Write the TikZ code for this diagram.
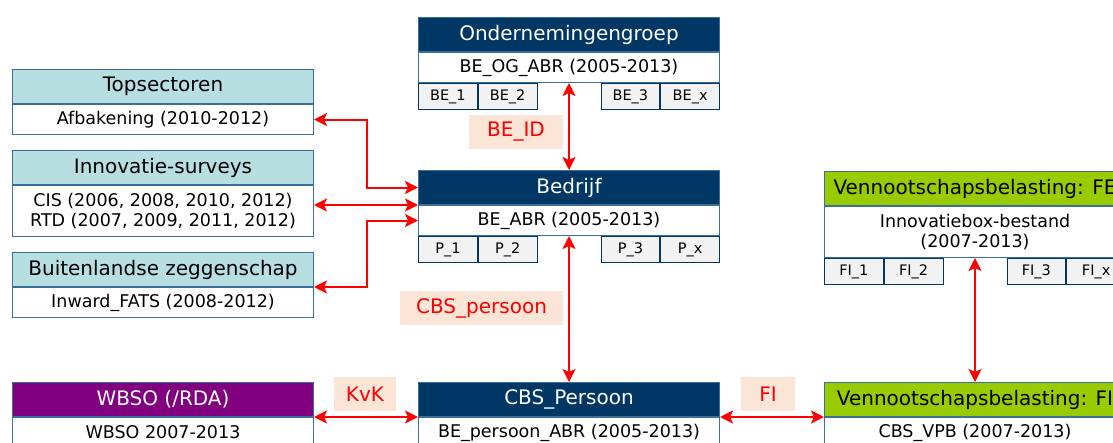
\documentclass[tikz,border=0pt]{standalone}
\usepackage{fontspec}
\setmainfont{DejaVu Sans}
\usetikzlibrary{arrows.meta, positioning}

\definecolor{navy}{HTML}{003764}
\definecolor{hdrteal}{HTML}{B7DFE2}
\definecolor{hdrpurple}{HTML}{800080}
\definecolor{hdrgreen}{HTML}{99CC00}
\definecolor{boxline}{HTML}{3C6E9A}
\definecolor{keygrey}{HTML}{F2F2F2}
\definecolor{linkred}{HTML}{FF0000}
\definecolor{labelfill}{HTML}{FBE5D6}

\tikzset{
  hdr/.style={draw=boxline, line width=1pt, minimum width=301pt, minimum height=34pt,
    inner sep=0pt, anchor=north west, font=\fontsize{20}{23}\selectfont},
  bodybox/.style={draw=boxline, line width=1pt, fill=white, minimum width=301pt,
    minimum height=30pt, inner sep=0pt, align=center, font=\fontsize{17.5}{20}\selectfont},
  keybox/.style={draw=navy, line width=1pt, fill=keygrey, minimum width=58.75pt,
    minimum height=26pt, inner sep=0pt, font=\fontsize{14.5}{16}\selectfont},
  link/.style={draw=linkred, line width=2pt,
    {Stealth[length=13pt, width=13pt, inset=3pt]}-{Stealth[length=13pt, width=13pt, inset=3pt]}},
  idlabel/.style={fill=labelfill, text=linkred, minimum height=34pt, inner sep=0pt,
    font=\fontsize{20}{24}\selectfont}
}

\begin{document}
\begin{tikzpicture}[x=1pt, y=-1pt]
  \clip (0,0) rectangle (1113,442);

  % ondernemingengroep
  \node[hdr, fill=navy, text=white] (og) at (418,17) {Ondernemingengroep};
  \node[bodybox, below=0pt of og] (ogb) {BE\_OG\_ABR (2005-2013)};
  \node[keybox, anchor=north west] (og1) at (ogb.south west) {BE\_1};
  \node[keybox, anchor=north west] (og2) at (og1.north east) {BE\_2};
  \node[keybox, anchor=north east] (og4) at (ogb.south east) {BE\_x};
  \node[keybox, anchor=north east] (og3) at (og4.north west) {BE\_3};

  % bedrijf
  \node[hdr, fill=navy, text=white] (bed) at (418,170) {Bedrijf};
  \node[bodybox, below=0pt of bed] (bedb) {BE\_ABR (2005-2013)};
  \node[keybox, anchor=north west] (p1) at (bedb.south west) {P\_1};
  \node[keybox, anchor=north west] (p2) at (p1.north east) {P\_2};
  \node[keybox, anchor=north east] (p4) at (bedb.south east) {P\_x};
  \node[keybox, anchor=north east] (p3) at (p4.north west) {P\_3};

  % left sources
  \node[hdr, fill=hdrteal] (top) at (12,69) {Topsectoren};
  \node[bodybox, below=0pt of top] (topb) {Afbakening (2010-2012)};
  \node[hdr, fill=hdrteal] (inn) at (12,150) {Innovatie-surveys};
  \node[bodybox, below=0pt of inn, minimum height=51pt] (innb)
    {CIS (2006, 2008, 2010, 2012)\\RTD (2007, 2009, 2011, 2012)};
  \node[hdr, fill=hdrteal] (buz) at (12,252) {Buitenlandse zeggenschap};
  \node[bodybox, below=0pt of buz] (buzb) {Inward\_FATS (2008-2012)};

  % vpb FE
  \node[hdr, fill=hdrgreen] (fe) at (824,171) {Vennootschapsbelasting: FE};
  \node[bodybox, below=0pt of fe, minimum height=51pt] (feb)
    {Innovatiebox-bestand\\(2007-2013)};
  \node[keybox, anchor=north west] (fi1) at (feb.south west) {FI\_1};
  \node[keybox, anchor=north west] (fi2) at (fi1.north east) {FI\_2};
  \node[keybox, anchor=north east] (fi4) at (feb.south east) {FI\_x};
  \node[keybox, anchor=north east] (fi3) at (fi4.north west) {FI\_3};

  % bottom row
  \node[hdr, fill=hdrpurple, text=white] (wbso) at (12,382) {WBSO (/RDA)};
  \node[bodybox, below=0pt of wbso] (wbsob) {WBSO 2007-2013};
  \node[hdr, fill=navy, text=white] (cbs) at (418,382) {CBS\_Persoon};
  \node[bodybox, below=0pt of cbs] (cbsb) {BE\_persoon\_ABR (2005-2013)};
  \node[hdr, fill=hdrgreen] (vpb) at (824,382) {Vennootschapsbelasting: FI};
  \node[bodybox, below=0pt of vpb] (vpbb) {CBS\_VPB (2007-2013)};

  % links
  \draw[link] (ogb.south) -- (bed.north);
  \draw[link] (bedb.south) -- (cbs.north);
  \draw[link] (feb.south) -- (vpb.north);
  \draw[link] (topb.east) -- ++(53,0) |- (bed.west);
  \draw[link] (innb.east |- bed.south west) -- (bed.south west);
  \draw[link] (buz.south east) -- ++(53,0) |- (bedb.west);
  \draw[link] (wbso.south east) -- (cbs.south west);
  \draw[link] (cbs.south east) -- (vpb.south west);

  % key labels
  \node[idlabel, minimum width=94pt] (lbeid) at (516,132) {BE\_ID};
  \node[idlabel, minimum width=163pt] (lcbs) at (481.5,308) {CBS\_persoon};
  \node[idlabel, minimum width=62pt] (lkvk) at (365,394) {KvK};
  \node[idlabel, minimum width=54pt] (lfi) at (768,394) {FI};
\end{tikzpicture}
\end{document}
